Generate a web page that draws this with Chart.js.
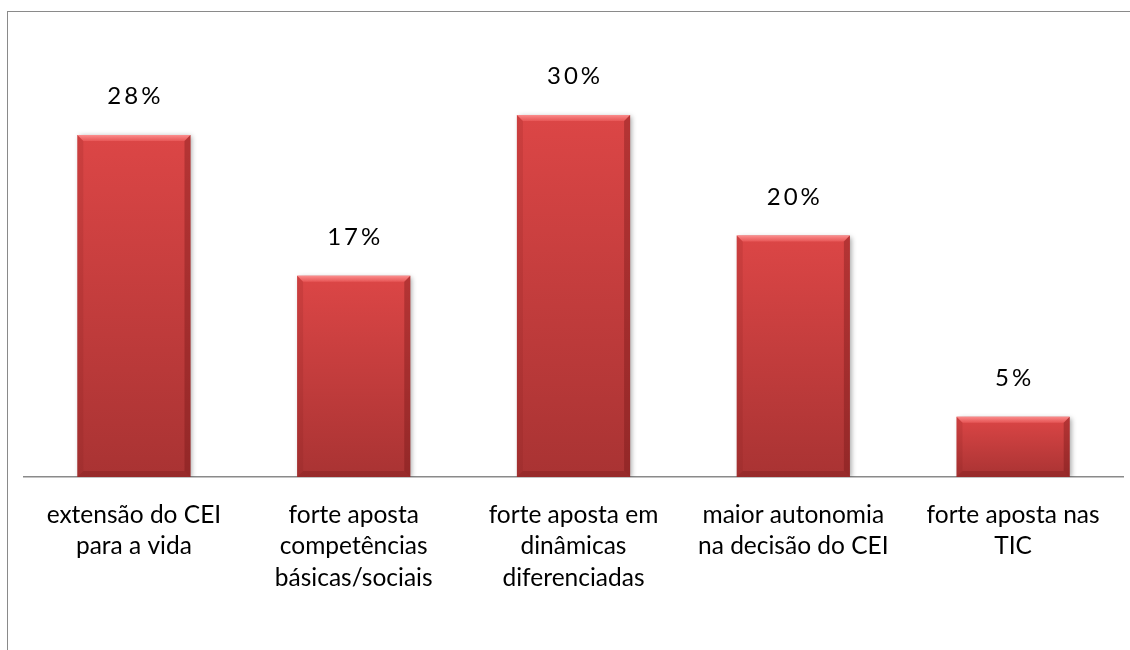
<!DOCTYPE html>
<html>
<head>
<meta charset="utf-8">
<script src="https://cdn.jsdelivr.net/npm/chart.js@4/dist/chart.umd.min.js"></script>
<style>
  html, body { margin: 0; padding: 0; background: #fff; overflow: hidden; }
  #frame { position: absolute; left: 7px; top: 11px; width: 1300px; height: 800px;
           border-left: 1.5px solid #8a8a8a; border-top: 1.5px solid #8a8a8a; }
  #wrap { position: absolute; left: 0; top: 0; width: 1130px; height: 650px; }
</style>
</head>
<body>
<div id="frame"></div>
<div id="wrap"><canvas id="c" width="1130" height="650"></canvas></div>
<script>
const categories = [
  ["extensão do CEI", "para a vida"],
  ["forte aposta", "competências", "básicas/sociais"],
  ["forte aposta em", "dinâmicas", "diferenciadas"],
  ["maior autonomia", "na decisão do CEI"],
  ["forte aposta nas", "TIC"]
];
const values = [28.33, 16.67, 30.0, 20.0, 5.0];
const valueLabels = ["28%", "17%", "30%", "20%", "5%"];

const FONT = "Lato, 'Open Sans', sans-serif";

function barFill(ctx) {
  const chart = ctx.chart;
  if (!chart.chartArea || ctx.dataIndex === undefined) return '#d64242';
  const ys = chart.scales.y;
  const top = ys.getPixelForValue(values[ctx.dataIndex]);
  const base = ys.getPixelForValue(0);
  const g = chart.ctx.createLinearGradient(0, top, 0, base);
  g.addColorStop(0, '#dc4646');
  g.addColorStop(1, '#a93333');
  return g;
}

const bevelPlugin = {
  id: 'bevel',
  beforeDatasetsDraw(chart) {
    const c = chart.ctx;
    c.save();
    c.shadowColor = 'rgba(0,0,0,0.35)';
    c.shadowBlur = 5;
    c.shadowOffsetX = 2;
    c.shadowOffsetY = 1;
  },
  afterDatasetsDraw(chart) {
    const c = chart.ctx;
    c.restore();
    const meta = chart.getDatasetMeta(0);
    meta.data.forEach((bar, i) => {
      const p = bar.getProps(['x', 'y', 'base', 'width'], true);
      const l = p.x - p.width / 2, r = p.x + p.width / 2, t = p.y, b = p.base;
      const d = 6;
      c.save();
      let g = c.createLinearGradient(0, t, 0, t + d);
      g.addColorStop(0, 'rgba(255,150,150,0.9)');
      g.addColorStop(1, 'rgba(240,100,100,0.6)');
      c.fillStyle = g;
      c.beginPath(); c.moveTo(l, t); c.lineTo(r, t); c.lineTo(r - d, t + d); c.lineTo(l + d, t + d); c.closePath(); c.fill();
      c.fillStyle = 'rgba(110,20,20,0.35)';
      c.beginPath(); c.moveTo(r, t); c.lineTo(r, b); c.lineTo(r - d, b - d); c.lineTo(r - d, t + d); c.closePath(); c.fill();
      c.fillStyle = 'rgba(120,25,25,0.15)';
      c.beginPath(); c.moveTo(l, t); c.lineTo(l + d, t + d); c.lineTo(l + d, b - d); c.lineTo(l, b); c.closePath(); c.fill();
      c.fillStyle = 'rgba(100,15,15,0.25)';
      c.beginPath(); c.moveTo(l, b); c.lineTo(l + d, b - d); c.lineTo(r - d, b - d); c.lineTo(r, b); c.closePath(); c.fill();
      c.restore();
    });
    c.save();
    c.font = "24px " + FONT;
    c.fillStyle = '#000';
    c.textAlign = 'center';
    c.textBaseline = 'alphabetic';
    if ('letterSpacing' in c) c.letterSpacing = '3px';
    meta.data.forEach((bar, i) => {
      c.fillText(valueLabels[i], bar.x + 1.5, bar.y - 31);
    });
    c.restore();
  }
};

new Chart(document.getElementById('c'), {
  type: 'bar',
  data: {
    labels: categories,
    datasets: [{
      data: values,
      backgroundColor: barFill,
      borderWidth: 0,
      barPercentage: 0.515,
      categoryPercentage: 1.0
    }]
  },
  options: {
    responsive: false,
    animation: false,
    devicePixelRatio: 1,
    layout: { padding: { left: 24, right: 7, top: 42.5, bottom: 0 } },
    plugins: { legend: { display: false }, tooltip: { enabled: false } },
    scales: {
      x: {
        grid: { display: false, drawTicks: false },
        border: { display: true, color: '#8a8a8a', width: 1.5 },
        ticks: {
          color: '#000',
          font: { family: FONT, size: 24.5, lineHeight: 1.29 },
          padding: 22,
          maxRotation: 0,
          autoSkip: false
        },
        afterFit(scale) { scale.height = 173; }
      },
      y: {
        display: false,
        min: 0,
        max: 36
      }
    }
  },
  plugins: [bevelPlugin]
});
</script>
</body>
</html>
